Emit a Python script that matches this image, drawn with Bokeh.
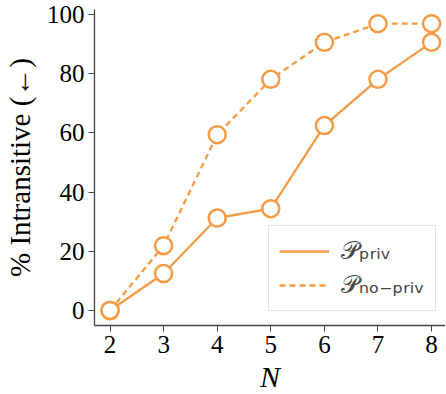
from bokeh.plotting import figure
from bokeh.models import Legend, LegendItem, Range1d, FixedTicker
from bokeh.embed import file_html
from bokeh.resources import INLINE

N = [2, 3, 4, 5, 6, 7, 8]
priv = [0.0, 12.5, 31.25, 34.4, 62.5, 78.1, 90.6]
no_priv = [0.0, 21.9, 59.4, 78.1, 90.6, 96.9, 96.9]
label_priv = "𝒫ₚᵣᵢᵥ"
label_nopriv = "𝒫ₙₒ₋ₚᵣᵢᵥ"

ORANGE = "#f59a45"
SERIF = "Liberation Serif"

p = figure(width=438, height=378, output_backend="svg", toolbar_location=None,
           x_range=Range1d(1.71, 8.26), y_range=Range1d(-5.07, 101.7))
p.frame_width = 351
p.frame_height = 316
p.min_border_left = 87
p.min_border_top = 9
p.min_border_right = 0
p.min_border_bottom = 53
p.outline_line_color = None
p.xgrid.visible = False
p.ygrid.visible = False

l1 = p.line(N, priv, line_color=ORANGE, line_width=2.3)
l2 = p.line(N, no_priv, line_color=ORANGE, line_width=2.3, line_dash="6 4")
p.scatter(N, priv, size=17, fill_color="white", line_color=ORANGE, line_width=2.5)
p.scatter(N, no_priv, size=17, fill_color="white", line_color=ORANGE, line_width=2.5)

for ax in (p.xaxis[0], p.yaxis[0]):
    ax.axis_line_color = "#444444"
    ax.axis_line_width = 1.3
    ax.major_tick_line_color = "#444444"
    ax.major_tick_in = 0
    ax.major_tick_out = 6
    ax.minor_tick_line_color = None
    ax.major_label_text_font = SERIF
    ax.major_label_text_font_size = "25px"
    ax.major_label_text_color = "black"
    ax.axis_label_text_font = SERIF
    ax.axis_label_text_font_style = "normal"
    ax.axis_label_text_color = "black"

p.xaxis.ticker = FixedTicker(ticks=N)
p.yaxis.ticker = FixedTicker(ticks=[0, 20, 40, 60, 80, 100])
p.xaxis.axis_label = "N"
p.xaxis.axis_label_text_font_style = "italic"
p.xaxis.axis_label_text_font_size = "30px"
p.xaxis.axis_label_standoff = 4
p.xaxis.major_label_standoff = 4
p.yaxis.axis_label = "% Intransitive (←)"
p.yaxis.axis_label_text_font_size = "29px"
p.yaxis.axis_label_standoff = 8
p.yaxis.major_label_standoff = 4

legend = Legend(items=[LegendItem(label=label_priv, renderers=[l1]),
                       LegendItem(label=label_nopriv, renderers=[l2])],
                location=(174, 14))
legend.label_text_font = "DejaVu Sans"
legend.label_text_font_size = "25px"
legend.glyph_width = 50
legend.glyph_height = 30
legend.label_standoff = 12
legend.spacing = 4
legend.padding = 10
legend.margin = 0
legend.border_line_color = "#cccccc"
legend.border_line_width = 1
legend.background_fill_alpha = 0.8
p.add_layout(legend, "center")

open("out.html", "w").write(file_html(p, INLINE))
